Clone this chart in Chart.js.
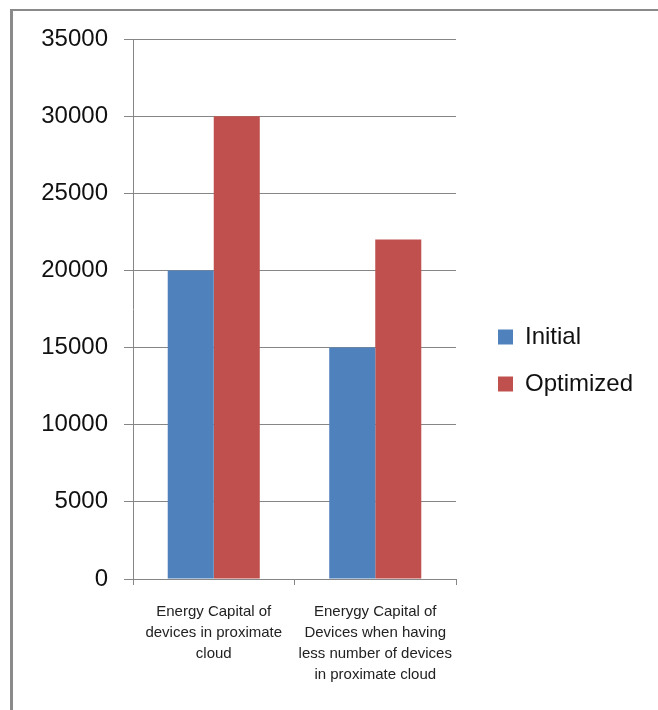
<!DOCTYPE html>
<html>
<head>
<meta charset="utf-8">
<title>Energy Capital</title>
<script src="https://cdn.jsdelivr.net/npm/chart.js@4/dist/chart.umd.min.js"></script>
<style>
  html, body { margin: 0; padding: 0; background: #fff; }
  #wrap { position: relative; width: 658px; height: 710px; overflow: hidden; }
  #frame {
    position: absolute; left: 10px; top: 9px; width: 645px; height: 720px;
    border-left: 3px solid #8a8a8a; border-top: 2px solid #8a8a8a;
    border-right: 1px solid #c8c8c8; pointer-events: none;
  }
  canvas { position: absolute; left: 0; top: 0; }
</style>
</head>
<body>
<div id="wrap">
  <canvas id="c" width="658" height="710"></canvas>
  <div id="frame"></div>
</div>
<script>
const categories = [
  ['Energy Capital of', 'devices in proximate', 'cloud'],
  ['Enerygy Capital of', 'Devices when having', 'less number of devices', 'in proximate cloud']
];
const initialValues = [20000, 15000];
const optimizedValues = [30000, 22000];
const seriesNames = ['Initial', 'Optimized'];

const gridColor = '#868686';
const font = '"Liberation Sans", Arial, sans-serif';

// Let the right-hand legend use the full strip beside the plot, with a gap after the plot.
const legendStrip = {
  id: 'legendStrip',
  afterLayout(chart) {
    const lg = chart.legend;
    if (!lg) return;
    lg.left = chart.chartArea.right + 19;
    lg.right = chart.width;
    lg.width = lg.right - lg.left;
  }
};

new Chart(document.getElementById('c'), {
  type: 'bar',
  data: {
    labels: categories,
    datasets: [
      { label: seriesNames[0], data: initialValues, backgroundColor: '#4F81BD' },
      { label: seriesNames[1], data: optimizedValues, backgroundColor: '#C0504D' }
    ]
  },
  plugins: [legendStrip],
  options: {
    responsive: false,
    animation: false,
    devicePixelRatio: 1,
    layout: { padding: { left: 0, top: 39, right: 50, bottom: 28 } },
    datasets: { bar: { categoryPercentage: 0.57, barPercentage: 1.0, borderWidth: 0 } },
    plugins: {
      tooltip: { enabled: false },
      legend: {
        position: 'right',
        align: 'center',
        labels: {
          boxWidth: 15, boxHeight: 15, padding: 23,
          color: '#111',
          font: { family: font, size: 24 }
        }
      }
    },
    scales: {
      x: {
        grid: { display: true, drawOnChartArea: false, offset: true, tickLength: 6, color: gridColor },
        border: { color: gridColor },
        ticks: { color: '#222', padding: 16, font: { family: font, size: 15, lineHeight: 1.4 } },
        afterFit: s => { s.height = 103; }
      },
      y: {
        min: 0, max: 35000,
        grid: { color: gridColor, tickLength: 9 },
        border: { color: gridColor },
        ticks: {
          stepSize: 5000, color: '#111', padding: 16,
          font: { family: font, size: 24 },
          callback: v => String(v)
        },
        afterFit: s => { s.width = 133; }
      }
    }
  }
});
</script>
</body>
</html>
